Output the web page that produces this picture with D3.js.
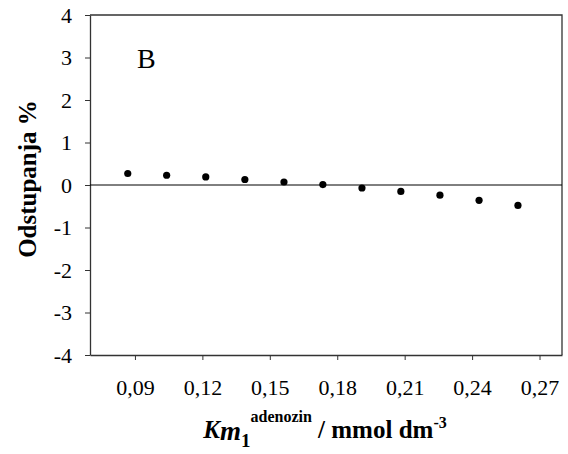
<!DOCTYPE html>
<html>
<head>
<meta charset="utf-8">
<script src="https://cdn.jsdelivr.net/npm/d3@7"></script>
<style>
  body { margin: 0; background: #fff; }
  svg { display: block; }
  svg text { font-family: "Liberation Serif", "Times New Roman", Times, serif; }
</style>
</head>
<body>
<svg id="chart"></svg>
<script>
// values
const kmValues = [0.0868, 0.1041, 0.1215, 0.1389, 0.1563, 0.1736, 0.1910, 0.2083, 0.2257, 0.2431, 0.2604];
const deviations = [0.27, 0.23, 0.19, 0.13, 0.07, 0.01, -0.07, -0.15, -0.24, -0.36, -0.48];
const xTicks = [0.09, 0.12, 0.15, 0.18, 0.21, 0.24, 0.27];
const yTicks = [-4, -3, -2, -1, 0, 1, 2, 3, 4];
const panelLabel = 'B';

const config = {
  width: 568,
  height: 454,
  margin: { top: 15, right: 6, bottom: 99, left: 90 }
};

const w = config.width - config.margin.left - config.margin.right;
const h = config.height - config.margin.top - config.margin.bottom;
const serif = '"Liberation Serif", "Times New Roman", serif';

const svg = d3.select('#chart')
  .attr('width', config.width)
  .attr('height', config.height);

const chart = svg.append('g')
  .attr('transform', `translate(${config.margin.left},${config.margin.top})`);

const xScale = d3.scaleLinear().domain([0.07, 0.28]).range([0, w]);
const yScale = d3.scaleLinear().domain([-4, 4]).range([h, 0]);

// frame on top and right
chart.append('path')
  .attr('d', `M0,0H${w}V${h}`)
  .attr('fill', 'none')
  .attr('stroke', '#333')
  .attr('stroke-width', 1.3);

// comma decimals, plain hyphen for negatives
const xFmt = d => d3.format('.2f')(d).replace('.', ',');
const yFmt = d => String(d);

const xAxis = d3.axisBottom(xScale)
  .tickValues(xTicks)
  .tickFormat(xFmt)
  .tickSizeInner(5)
  .tickSizeOuter(0)
  .tickPadding(19);

const yAxis = d3.axisLeft(yScale)
  .tickValues(yTicks)
  .tickFormat(yFmt)
  .tickSizeInner(5)
  .tickSizeOuter(0)
  .tickPadding(13);

const xg = chart.append('g')
  .attr('transform', `translate(0,${h})`)
  .call(xAxis);

const yg = chart.append('g').call(yAxis);

[xg, yg].forEach(g => {
  g.attr('font-family', serif).attr('font-size', 22);
  g.selectAll('.domain').attr('stroke', '#333').attr('stroke-width', 1.3);
  g.selectAll('.tick line').attr('stroke', '#333');
  g.selectAll('text').attr('fill', '#000');
});

// zero line
chart.append('line')
  .attr('x1', 0).attr('x2', w)
  .attr('y1', yScale(0)).attr('y2', yScale(0))
  .attr('stroke', '#000')
  .attr('stroke-width', 1);

// data points
chart.selectAll('.pt')
  .data(kmValues.map((k, i) => ({ k, d: deviations[i] })))
  .join('circle')
  .attr('class', 'pt')
  .attr('cx', d => xScale(d.k))
  .attr('cy', d => yScale(d.d))
  .attr('r', 3.6)
  .attr('fill', '#000');

// panel letter
chart.append('text')
  .attr('x', 47)
  .attr('y', 53)
  .attr('font-family', serif)
  .attr('font-size', 28)
  .text(panelLabel);

// y title
svg.append('text')
  .attr('transform', 'translate(36,179) rotate(-90)')
  .attr('text-anchor', 'middle')
  .attr('font-family', serif)
  .attr('font-size', 25)
  .attr('font-weight', 'bold')
  .text('Odstupanja %');

// x title
const xt = svg.append('text')
  .attr('x', 325)
  .attr('y', 438)
  .attr('text-anchor', 'middle')
  .attr('font-family', serif)
  .attr('font-weight', 'bold')
  .attr('font-size', 25);
xt.append('tspan').attr('font-style', 'italic').text('K');
xt.append('tspan').attr('font-style', 'italic').attr('dy', 2).attr('font-size', 27).text('m');
xt.append('tspan').attr('dy', 7).attr('font-size', 19).text('1');
xt.append('tspan').attr('dy', -25).attr('font-size', 16).text('adenozin');
xt.append('tspan').attr('dy', 16).text(' / mmol dm');
xt.append('tspan').attr('dy', -10).attr('font-size', 16).text('-3');
</script>
</body>
</html>
